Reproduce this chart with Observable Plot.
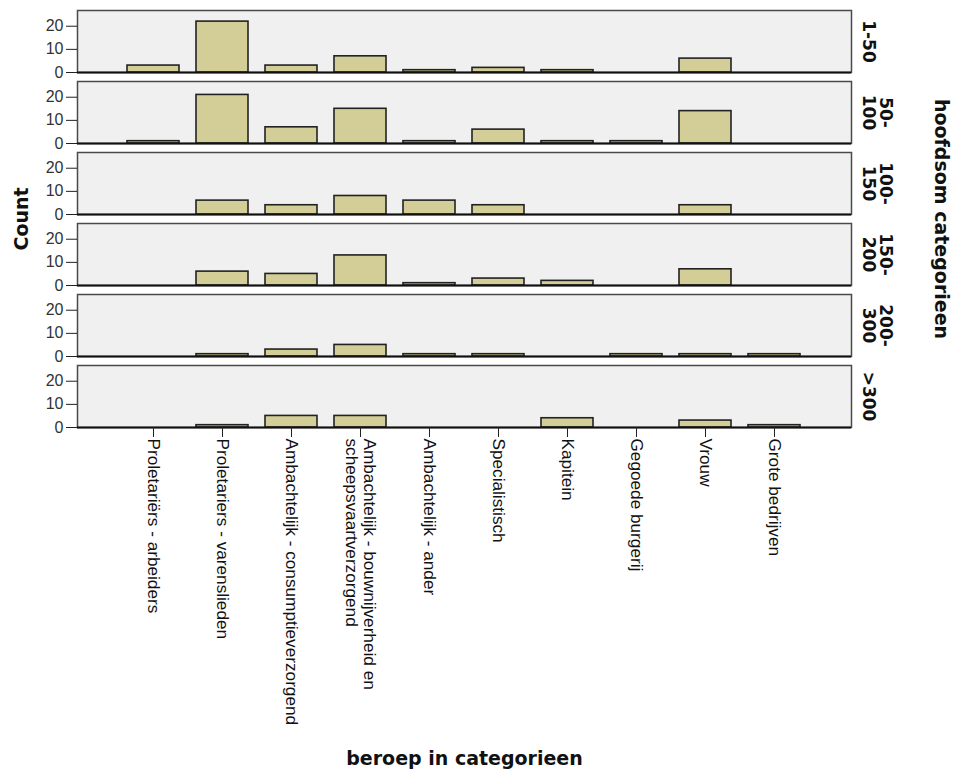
<!DOCTYPE html>
<html><head><meta charset="utf-8">
<script src="https://cdn.jsdelivr.net/npm/d3@7"></script>
<script src="https://cdn.jsdelivr.net/npm/@observablehq/plot@0.6"></script>
<style>body{margin:0;background:#fff} svg{display:block}</style>
</head><body><div id="chart"></div>
<script>
const categories = [
  "Proletariërs - arbeiders",
  "Proletariers - varenslieden",
  "Ambachtelijk - consumptieverzorgend",
  "Ambachtelijk - bouwnijverheid en\nscheepsvaartverzorgend",
  "Ambachtelijk - ander",
  "Specialistisch",
  "Kapitein",
  "Gegoede burgerij",
  "Vrouw",
  "Grote bedrijven"
];
const groups = ["1-50", "50-100", "100-150", "150-200", "200-300", ">300"];
const groupLabels = ["1-50", "50-\n100", "100-\n150", "150-\n200", "200-\n300", ">300"];
const counts1to50    = [3, 22, 3, 7, 1, 2, 1, 0, 6, 0];
const counts50to100  = [1, 21, 7, 15, 1, 6, 1, 1, 14, 0];
const counts100to150 = [0, 6, 4, 8, 6, 4, 0, 0, 4, 0];
const counts150to200 = [0, 6, 5, 13, 1, 3, 2, 0, 7, 0];
const counts200to300 = [0, 1, 3, 5, 1, 1, 0, 1, 1, 1];
const countsOver300  = [0, 1, 5, 5, 0, 0, 4, 0, 3, 1];
const yTicks = [0, 10, 20];
const yLabel = "Count";
const xLabel = "beroep in categorieen";
const fyLabel = "hoofdsom categorieen";

const countsByGroup = [counts1to50, counts50to100, counts100to150, counts150to200, counts200to300, countsOver300];
const data = groups.flatMap((g, i) => categories.map((c, j) => ({group: g, beroep: c, count: countsByGroup[i][j]})));

const titleFont = "'DejaVu Sans', Verdana, sans-serif";

const plot = Plot.plot({
  width: 954, height: 771,
  marginLeft: 77, marginRight: 103, marginTop: 8, marginBottom: 341,
  style: {fontFamily: "'Liberation Sans', Arial, sans-serif", color: "#222", background: "#fff", overflow: "visible"},
  x: {type: "band", domain: categories, paddingInner: 0.242, paddingOuter: 0.685},
  y: {domain: [0, 26.8]},
  fy: {domain: groups, paddingInner: 0.125, paddingOuter: 0, axis: null},
  marks: [
    Plot.frame({fill: "#f0f0f0", stroke: "#4a4a4a", strokeWidth: 1.5}),
    Plot.barY(data, {filter: d => d.count > 0, x: "beroep", y: "count", fy: "group", fill: "#d3ce97", stroke: "#222", strokeWidth: 1.6}),
    Plot.ruleY([0], {stroke: "#111", strokeWidth: 2}),
    Plot.axisY({ticks: yTicks, tickSize: 11, tickPadding: 3, fontSize: 16, label: null, stroke: "#222", fill: "#333"}),
    Plot.axisX({tickRotate: 90, tickSize: 10, tickPadding: 1, fontSize: 17.2, label: null, fill: "#111"}),
    Plot.text(groups, {fy: d => d, text: (d, i) => groupLabels[i], frameAnchor: "right", dx: 11, rotate: 90,
      textAnchor: "middle", lineAnchor: "bottom", fontSize: 17, fontWeight: "bold", fontFamily: titleFont, fill: "#111"}),
    Plot.text([yLabel], {fy: ["100-150"], frameAnchor: "bottom-left", dx: -56, dy: 4.5, rotate: -90,
      textAnchor: "middle", lineAnchor: "middle", fontSize: 19, fontWeight: "bold", fontFamily: titleFont, fill: "#111"}),
    Plot.text([fyLabel], {fy: ["100-150"], frameAnchor: "bottom-right", dx: 90, dy: 4.5, rotate: 90,
      textAnchor: "middle", lineAnchor: "middle", fontSize: 19, fontWeight: "bold", fontFamily: titleFont, fill: "#111"}),
    Plot.text([xLabel], {fy: [">300"], frameAnchor: "bottom", dy: 331,
      textAnchor: "middle", lineAnchor: "middle", fontSize: 19, fontWeight: "bold", fontFamily: titleFont, fill: "#111"})
  ]
});
document.getElementById("chart").append(plot);
</script>
</body></html>
